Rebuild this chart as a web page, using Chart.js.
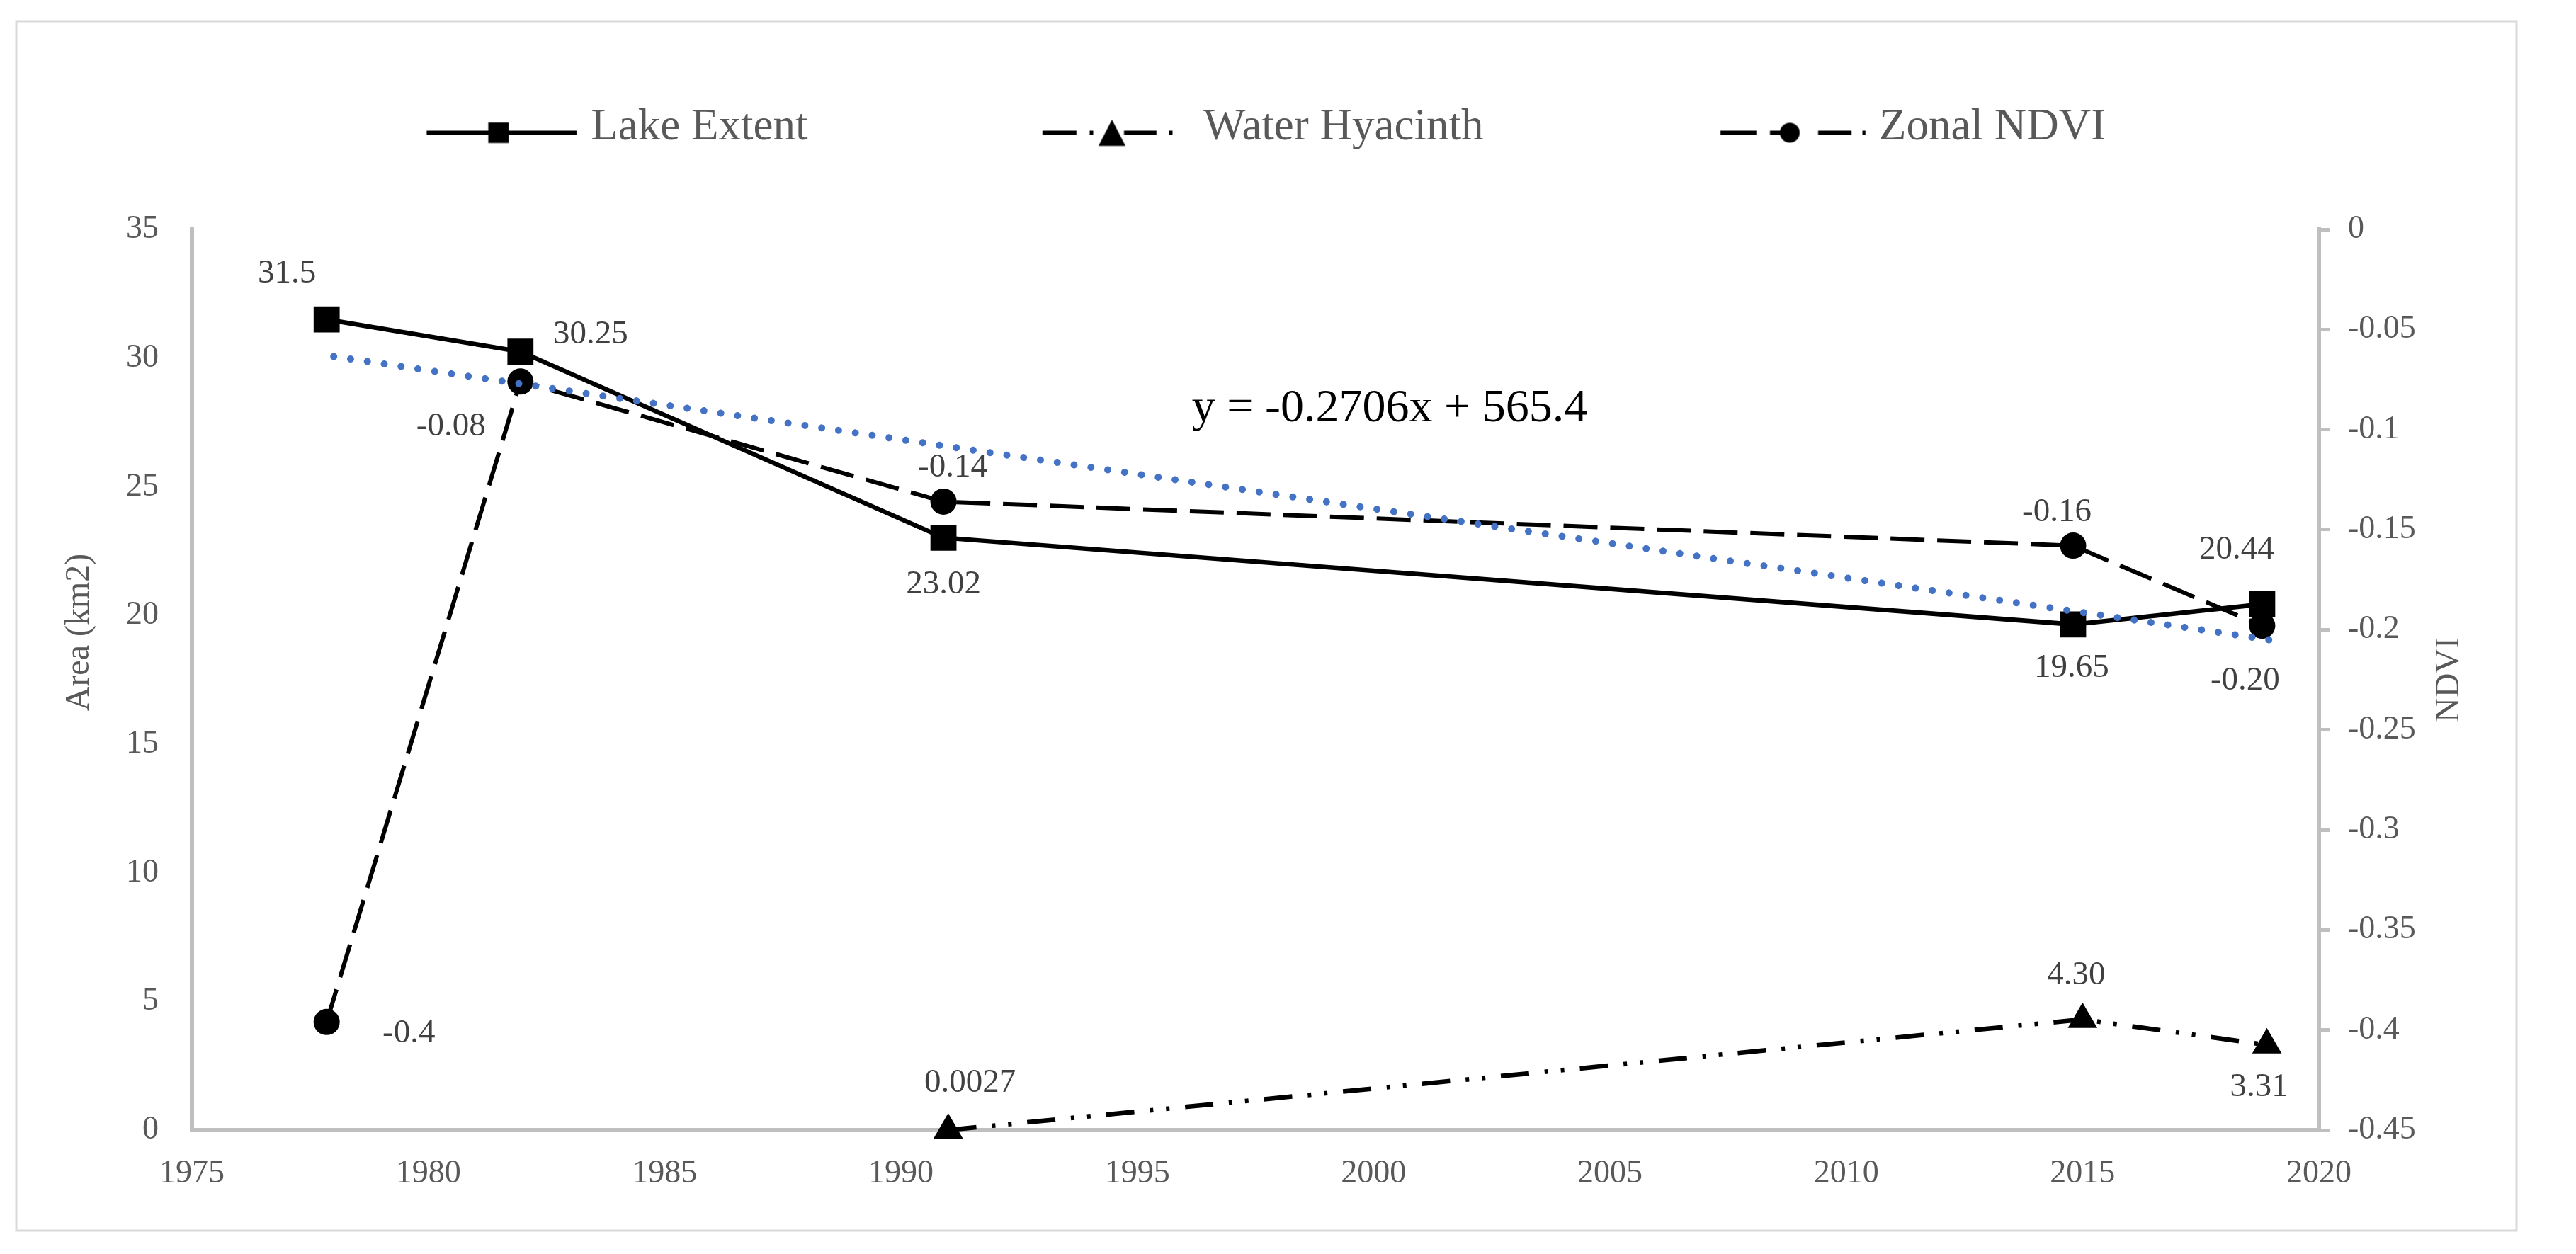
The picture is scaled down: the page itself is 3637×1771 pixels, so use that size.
<!DOCTYPE html>
<html>
<head>
<meta charset="utf-8">
<script src="https://cdn.jsdelivr.net/npm/chart.js@4.4.1/dist/chart.umd.min.js"></script>
<style>
html,body{margin:0;padding:0;background:#ffffff;}
#wrap{width:3637px;height:1771px;position:relative;}
</style>
</head>
<body>
<div id="wrap"><canvas id="c"></canvas></div>
<script>
// ---------------- data ----------------
const seriesNames = ['Lake Extent', 'Water Hyacinth', 'Zonal NDVI'];
const years = [1977.85, 1981.95, 1990.9, 2014.8, 2018.8];
const lakeExtent = [31.5, 30.25, 23.02, 19.65, 20.44];
const lakeLabels = ['31.5', '30.25', '23.02', '19.65', '20.44'];
const hyacinthYears = [1991.0, 2015.0, 2018.9];
const waterHyacinth = [0.0027, 4.30, 3.31];
const hyacinthLabels = ['0.0027', '4.30', '3.31'];
const zonalNdvi = [-0.396, -0.076, -0.136, -0.158, -0.198];
const ndviLabels = ['-0.4', '-0.08', '-0.14', '-0.16', '-0.20'];
const trendYears = [1978.0, 2019.0];
const trendValues = [30.06, 19.04];
const trendEquation = 'y = -0.2706x + 565.4';
const xTicks = [1975, 1980, 1985, 1990, 1995, 2000, 2005, 2010, 2015, 2020];
const areaTicks = [0, 5, 10, 15, 20, 25, 30, 35];
const ndviTicks = [-0.45, -0.4, -0.35, -0.3, -0.25, -0.2, -0.15, -0.1, -0.05, 0];
const ndviTickLabels = ['-0.45', '-0.4', '-0.35', '-0.3', '-0.25', '-0.2', '-0.15', '-0.1', '-0.05', '0'];
const leftTitle = 'Area (km2)';
const rightTitle = 'NDVI';

// ---------------- label offsets (style) ----------------
const lakeLabelOffsets = [[-56, -65], [99, -24], [0, 66], [-2, 62], [-36, -76]];
const hyacinthLabelOffsets = [[31, -66], [-9, -62], [-11, 60]];
const ndviLabelOffsets = [[116, 16], [-98, 64], [13, -48], [-23, -47], [-24, 78]];

const FONT = "'Liberation Serif', 'Times New Roman', serif";
Chart.defaults.font.family = FONT;
Chart.defaults.color = '#595959';

function toPoints(xs, ys) { return xs.map((x, i) => ({ x: x, y: ys[i] })); }

// ---------------- legend sample images ----------------
function makeLegendImage(kind) {
  const W = 226, H = 64, cy = 39;
  const c = document.createElement('canvas');
  c.width = W; c.height = H;
  const g = c.getContext('2d');
  g.strokeStyle = '#000'; g.fillStyle = '#000'; g.lineWidth = 6; g.lineCap = 'butt';
  const seg = (a, b) => { g.beginPath(); g.moveTo(a, cy); g.lineTo(b, cy); g.stroke(); };
  if (kind === 0) {
    seg(12.5, 224.5);
    g.fillRect(114 - 14.5, cy - 14.5, 29, 29);
  } else if (kind === 1) {
    seg(17.5, 65.5);
    seg(84, 89);
    seg(132.5, 178.5);
    seg(196, 201);
    g.beginPath();
    g.moveTo(115.5, cy - 18.5);
    g.lineTo(115.5 + 19, cy + 18.5);
    g.lineTo(115.5 - 19, cy + 18.5);
    g.closePath(); g.fill();
  } else {
    seg(20.5, 71.5);
    seg(90.5, 118);
    seg(158.5, 205.5);
    seg(221, 225.5);
    g.beginPath(); g.arc(118.5, cy, 14, 0, Math.PI * 2); g.fill();
  }
  return c;
}
const legendImages = [makeLegendImage(0), makeLegendImage(1), makeLegendImage(2)];

// ---------------- plugins ----------------
const framePlugin = {
  id: 'frame',
  beforeDraw(chart) {
    const ctx = chart.ctx;
    ctx.save();
    ctx.fillStyle = '#ffffff';
    ctx.fillRect(0, 0, chart.width, chart.height);
    ctx.strokeStyle = '#d9d9d9';
    ctx.lineWidth = 3;
    ctx.strokeRect(23, 30, 3530, 1708);
    ctx.restore();
  }
};

const legendSpacePlugin = {
  id: 'legendSpace',
  beforeLayout(chart) {
    const lg = chart.legend;
    if (lg && !lg._patched) {
      const orig = lg.fit;
      lg.fit = function () { orig.call(this); this.height += 102; };
      lg._patched = true;
    }
  }
};

const pointLabelPlugin = {
  id: 'pointLabels',
  afterDatasetsDraw(chart) {
    const ctx = chart.ctx;
    chart.data.datasets.forEach((ds, di) => {
      if (!ds.pointLabels) return;
      const meta = chart.getDatasetMeta(di);
      ctx.save();
      ctx.font = '47px ' + FONT;
      ctx.fillStyle = '#404040';
      ctx.textAlign = 'center';
      ctx.textBaseline = 'middle';
      meta.data.forEach((pt, i) => {
        const o = ds.labelOffsets[i];
        ctx.fillText(ds.pointLabels[i], pt.x + o[0], pt.y + o[1]);
      });
      ctx.restore();
    });
  }
};

const titlesPlugin = {
  id: 'titles',
  afterDraw(chart) {
    const ctx = chart.ctx;
    const ca = chart.chartArea;
    ctx.save();
    ctx.fillStyle = '#595959';
    ctx.font = '48px ' + FONT;
    ctx.textAlign = 'center';
    ctx.textBaseline = 'middle';
    ctx.translate(112, 893);
    ctx.rotate(-Math.PI / 2);
    ctx.fillText(leftTitle, 0, 0);
    ctx.restore();

    ctx.save();
    ctx.fillStyle = '#595959';
    ctx.font = '48px ' + FONT;
    ctx.textAlign = 'center';
    ctx.textBaseline = 'middle';
    ctx.translate(3458, (ca.top + ca.bottom) / 2);
    ctx.rotate(-Math.PI / 2);
    ctx.fillText(rightTitle, 0, 0);
    ctx.restore();

    ctx.save();
    ctx.fillStyle = '#000000';
    ctx.font = '66px ' + FONT;
    ctx.textAlign = 'center';
    ctx.textBaseline = 'alphabetic';
    ctx.fillText(trendEquation, 1962, 595);
    ctx.restore();
  }
};

// ---------------- chart ----------------
const chart = new Chart(document.getElementById('c'), {
  type: 'line',
  data: {
    datasets: [
      {
        label: 'Linear (Lake Extent)',
        data: toPoints(trendYears, trendValues),
        yAxisID: 'y',
        borderColor: '#4472C4',
        borderWidth: 10,
        borderDash: [0.01, 24],
        borderCapStyle: 'round',
        pointRadius: 0,
        fill: false,
        order: -1,
        clip: false
      },
      {
        label: seriesNames[0],
        data: toPoints(years, lakeExtent),
        yAxisID: 'y',
        borderColor: '#000000',
        borderWidth: 6.5,
        pointStyle: 'rect',
        pointRadius: 26,
        pointBackgroundColor: '#000000',
        pointBorderWidth: 0,
        fill: false,
        clip: false,
        pointLabels: lakeLabels,
        labelOffsets: lakeLabelOffsets
      },
      {
        label: seriesNames[1],
        data: toPoints(hyacinthYears, waterHyacinth),
        yAxisID: 'y',
        borderColor: '#000000',
        borderWidth: 6.5,
        borderDash: [40, 22, 5, 18, 5, 22],
        pointStyle: 'triangle',
        pointRadius: 24,
        pointBackgroundColor: '#000000',
        pointBorderWidth: 0,
        fill: false,
        clip: false,
        pointLabels: hyacinthLabels,
        labelOffsets: hyacinthLabelOffsets
      },
      {
        label: seriesNames[2],
        data: toPoints(years, zonalNdvi),
        yAxisID: 'y2',
        borderColor: '#000000',
        borderWidth: 6,
        borderDash: [48, 18],
        pointStyle: 'circle',
        pointRadius: 18.5,
        pointBackgroundColor: '#000000',
        pointBorderWidth: 0,
        fill: false,
        clip: false,
        pointLabels: ndviLabels,
        labelOffsets: ndviLabelOffsets
      }
    ]
  },
  options: {
    responsive: true,
    maintainAspectRatio: false,
    devicePixelRatio: 1,
    animation: false,
    events: [],
    layout: { padding: { top: 137, left: 23, right: 84, bottom: 94 } },
    elements: { line: { tension: 0 } },
    plugins: {
      tooltip: { enabled: false },
      legend: {
        display: true,
        position: 'top',
        labels: {
          usePointStyle: true,
          pointStyleWidth: 200,
          padding: 12,
          font: { size: 63, family: FONT },
          color: '#595959',
          generateLabels: () => seriesNames.map((name, i) => ({
            text: i < 2 ? name + ' '.repeat(20) : name,
            pointStyle: legendImages[i],
            fillStyle: '#000000',
            strokeStyle: '#000000',
            fontColor: '#595959',
            lineWidth: 0,
            hidden: false,
            datasetIndex: i + 1
          }))
        }
      }
    },
    scales: {
      x: {
        type: 'linear',
        min: 1975,
        max: 2020,
        afterBuildTicks: (s) => { s.ticks = xTicks.map(v => ({ value: v })); },
        afterFit: (s) => { s.height = 81; },
        ticks: {
          callback: (v) => String(v),
          font: { size: 46, family: FONT },
          color: '#595959',
          padding: 26,
          maxRotation: 0,
          autoSkip: false
        },
        grid: { display: false },
        border: { display: true, color: '#bfbfbf', width: 6 }
      },
      y: {
        type: 'linear',
        position: 'left',
        min: 0,
        max: 35,
        afterBuildTicks: (s) => { s.ticks = areaTicks.map(v => ({ value: v })); },
        afterFit: (s) => { s.width = 248; },
        ticks: {
          callback: (v) => String(v),
          font: { size: 46, family: FONT },
          color: '#595959',
          padding: 39
        },
        grid: { display: false },
        border: { display: true, color: '#bfbfbf', width: 6 }
      },
      y2: {
        type: 'linear',
        position: 'right',
        min: -0.45,
        max: 0,
        afterBuildTicks: (s) => { s.ticks = ndviTicks.map(v => ({ value: v })); },
        afterFit: (s) => { s.width = 279; },
        ticks: {
          callback: (v, i) => ndviTickLabels[i],
          font: { size: 46, family: FONT },
          color: '#595959',
          padding: 25
        },
        grid: {
          display: true,
          drawOnChartArea: false,
          drawTicks: true,
          tickLength: 16,
          color: '#bfbfbf',
          lineWidth: 5
        },
        border: { display: true, color: '#bfbfbf', width: 6 }
      }
    }
  },
  plugins: [framePlugin, legendSpacePlugin, pointLabelPlugin, titlesPlugin]
});
</script>
</body>
</html>
